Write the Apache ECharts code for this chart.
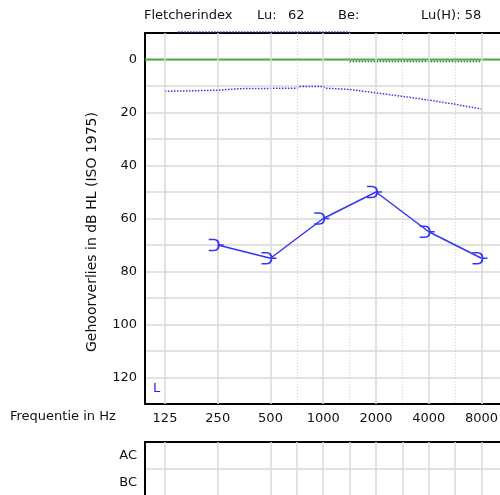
<!DOCTYPE html>
<html>
<head>
<meta charset="utf-8">
<title>Audiogram</title>
<script src="https://cdn.jsdelivr.net/npm/echarts@6/dist/echarts.min.js"></script>
<style>
  html, body { margin: 0; padding: 0; background: #fff; }
  #chart { width: 500px; height: 495px; }
</style>
</head>
<body>
<div id="chart"></div>
<script>
// Frequencies are placed on an octave scale: 0 = 125 Hz, 1 = 250 Hz ... 6 = 8000 Hz
var freqTicks = [125, 250, 500, 1000, 2000, 4000, 8000];
var octaveTicks = [0, 1, 2, 3, 4, 5, 6];
var halfOctaves = [2.5, 3.5, 4.5, 5.5];
var lowerPanelLines = [0, 1, 2, 2.5, 3, 3.5, 4, 4.5, 5, 5.5, 6];
var rowLabels = ['AC', 'BC'];

// Air conduction thresholds, left ear (dB HL)
var acOctaves = [1, 2, 3, 4, 5, 6];
var acLevels = [70, 75, 60, 50, 65, 75];

// Reference curve (dB HL) along the octave scale
var refOctaves = [0, 1, 1.4, 2.5, 2.55, 3.0, 3.05, 3.5, 4, 4.5, 5, 5.5, 6];
var refLevels = [12.0, 11.6, 11.0, 10.8, 10.2, 10.2, 10.8, 11.3, 12.6, 13.9, 15.3, 16.9, 18.7];

// Upper limit trace and 0 dB line
var topOctaves = [0.25, 3.5];
var topLevels = [-10.4, -10.4];
var zeroOctaves = [-0.38, 7.3];
var zeroLevels = [0, 0];
var zeroDotOctaves = [3.5, 6];
var zeroDotLevels = [0.8, 0.8];

// Header values
var luValue = '62';
var luHValue = '58';

// the plot runs past the right edge of the page (52.75 px per octave)
var X_MIN = -0.379, X_MAX = 6.635;
var FONT = 'DejaVu Sans';
var GRID_GREY = '#d9d9d9';
var BLUE = '#3434f4';
var FRAME = { show: true, onZero: false, lineStyle: { color: '#000', width: 2 } };

function pairs(xs, ys) { return xs.map(function (x, i) { return [x, ys[i]]; }); }

var chart = echarts.init(document.getElementById('chart'), null, { renderer: 'canvas' });

var option = {
  animation: false,
  backgroundColor: '#fff',
  grid: [
    { left: 145, top: 33, height: 371, width: 370, show: false, outerBoundsMode: 'none', containLabel: false },
    { left: 145, top: 442, height: 54, width: 370, show: false, outerBoundsMode: 'none', containLabel: false }
  ],
  xAxis: [
    {
      gridIndex: 0, type: 'value', min: X_MIN, max: X_MAX, position: 'bottom',
      axisLine: FRAME, axisTick: { show: false }, splitLine: { show: false },
      axisLabel: {
        customValues: octaveTicks, margin: 8, color: '#111', fontFamily: FONT, fontSize: 13,
        formatter: function (v) { var i = octaveTicks.indexOf(Math.round(v)); return i >= 0 ? String(freqTicks[i]) : ''; }
      }
    },
    {
      gridIndex: 1, type: 'value', min: X_MIN, max: X_MAX, position: 'top',
      axisLine: FRAME, axisTick: { show: false }, splitLine: { show: false }, axisLabel: { show: false }
    },
    {
      gridIndex: 0, type: 'value', min: X_MIN, max: X_MAX, position: 'top',
      axisLine: FRAME, axisTick: { show: false }, splitLine: { show: false }, axisLabel: { show: false }
    }
  ],
  yAxis: [
    {
      gridIndex: 0, type: 'value', inverse: true, min: -10, max: 130, interval: 10,
      axisLine: FRAME, axisTick: { show: false },
      splitLine: { show: true, lineStyle: { color: GRID_GREY, width: 1.5 } },
      axisLabel: {
        margin: 8, color: '#111', fontFamily: FONT, fontSize: 13,
        formatter: function (v) { return (v >= 0 && v <= 120 && v % 20 === 0) ? String(v) : ''; }
      }
    },
    {
      gridIndex: 1, type: 'category', data: rowLabels, inverse: true,
      axisLine: FRAME, axisTick: { show: false },
      splitLine: { show: true, lineStyle: { color: GRID_GREY, width: 1.5 } },
      axisLabel: { margin: 8, color: '#111', fontFamily: FONT, fontSize: 13 }
    }
  ],
  series: [
    // vertical grid lines, main panel
    {
      type: 'line', xAxisIndex: 0, yAxisIndex: 0, data: [], z: 1, silent: true,
      markLine: {
        silent: true, symbol: 'none', label: { show: false }, animation: false,
        data: octaveTicks.map(function (v) { return { xAxis: v, lineStyle: { color: GRID_GREY, width: 1.5, type: 'solid' } }; })
          .concat(halfOctaves.map(function (v) { return { xAxis: v, lineStyle: { color: '#cfcfcf', width: 1, type: [1, 2] } }; }))
      }
    },
    // vertical grid lines, lower panel
    {
      type: 'line', xAxisIndex: 1, yAxisIndex: 1, data: [], z: 1, silent: true,
      markLine: {
        silent: true, symbol: 'none', label: { show: false }, animation: false,
        lineStyle: { color: GRID_GREY, width: 1.5, type: 'solid' },
        data: lowerPanelLines.map(function (v) { return { xAxis: v }; })
      }
    },
    // 0 dB line
    {
      type: 'line', xAxisIndex: 0, yAxisIndex: 0, data: pairs(zeroOctaves, zeroLevels), z: 2,
      symbol: 'none', lineStyle: { color: '#52ac4a', width: 2 }
    },
    {
      type: 'line', xAxisIndex: 0, yAxisIndex: 0, data: pairs(zeroDotOctaves, zeroDotLevels), z: 2,
      symbol: 'none', lineStyle: { color: '#1d7f1d', width: 1.5, type: [1.5, 1.5] }
    },
    // reference curve
    {
      type: 'line', xAxisIndex: 0, yAxisIndex: 0, data: pairs(refOctaves, refLevels), z: 2,
      symbol: 'none', lineStyle: { color: BLUE, width: 1.5, type: [1.5, 1.5] }
    },
    // upper trace
    {
      type: 'line', xAxisIndex: 0, yAxisIndex: 0, data: pairs(topOctaves, topLevels), z: 4, clip: false,
      symbol: 'none', lineStyle: { color: BLUE, width: 1.5, type: [1.5, 1.5] }
    },
    // air conduction, left ear
    {
      type: 'line', xAxisIndex: 0, yAxisIndex: 0, data: pairs(acOctaves, acLevels), z: 5,
      symbol: 'path://M0,0 L5,0 Q10,0 10,5.5 L15,5.5 M10,5.5 Q10,11 5,11 L0,11',
      symbolSize: [15, 11], symbolOffset: [-1.5, 0], showSymbol: true,
      lineStyle: { color: BLUE, width: 1.5 },
      itemStyle: { color: 'rgba(0,0,0,0)', borderColor: BLUE, borderWidth: 1.6 }
    }
  ],
  graphic: [
    { type: 'text', left: 144, top: 9, style: { text: 'Fletcherindex', font: '13px "DejaVu Sans"', fill: '#111' } },
    { type: 'text', left: 257, top: 9, style: { text: 'Lu:', font: '13px "DejaVu Sans"', fill: '#111' } },
    { type: 'text', left: 288, top: 9, style: { text: luValue, font: '13px "DejaVu Sans"', fill: '#111' } },
    { type: 'text', left: 338, top: 9, style: { text: 'Be:', font: '13px "DejaVu Sans"', fill: '#111' } },
    { type: 'text', left: 421, top: 9, style: { text: 'Lu(H): ' + luHValue, font: '13px "DejaVu Sans"', fill: '#111' } },
    {
      type: 'text', x: 92, y: 232, rotation: Math.PI / 2,
      style: { text: 'Gehoorverlies in dB HL (ISO 1975)', font: '14px "DejaVu Sans"', fill: '#111', align: 'center', verticalAlign: 'middle' }
    },
    { type: 'text', left: 10, top: 410, style: { text: 'Frequentie in Hz', font: '13px "DejaVu Sans"', fill: '#111' } },
    { type: 'text', left: 153, top: 382, z: 10, style: { text: 'L', font: '13px "DejaVu Sans"', fill: '#2020ff' } }
  ]
};

chart.setOption(option);
</script>
</body>
</html>
